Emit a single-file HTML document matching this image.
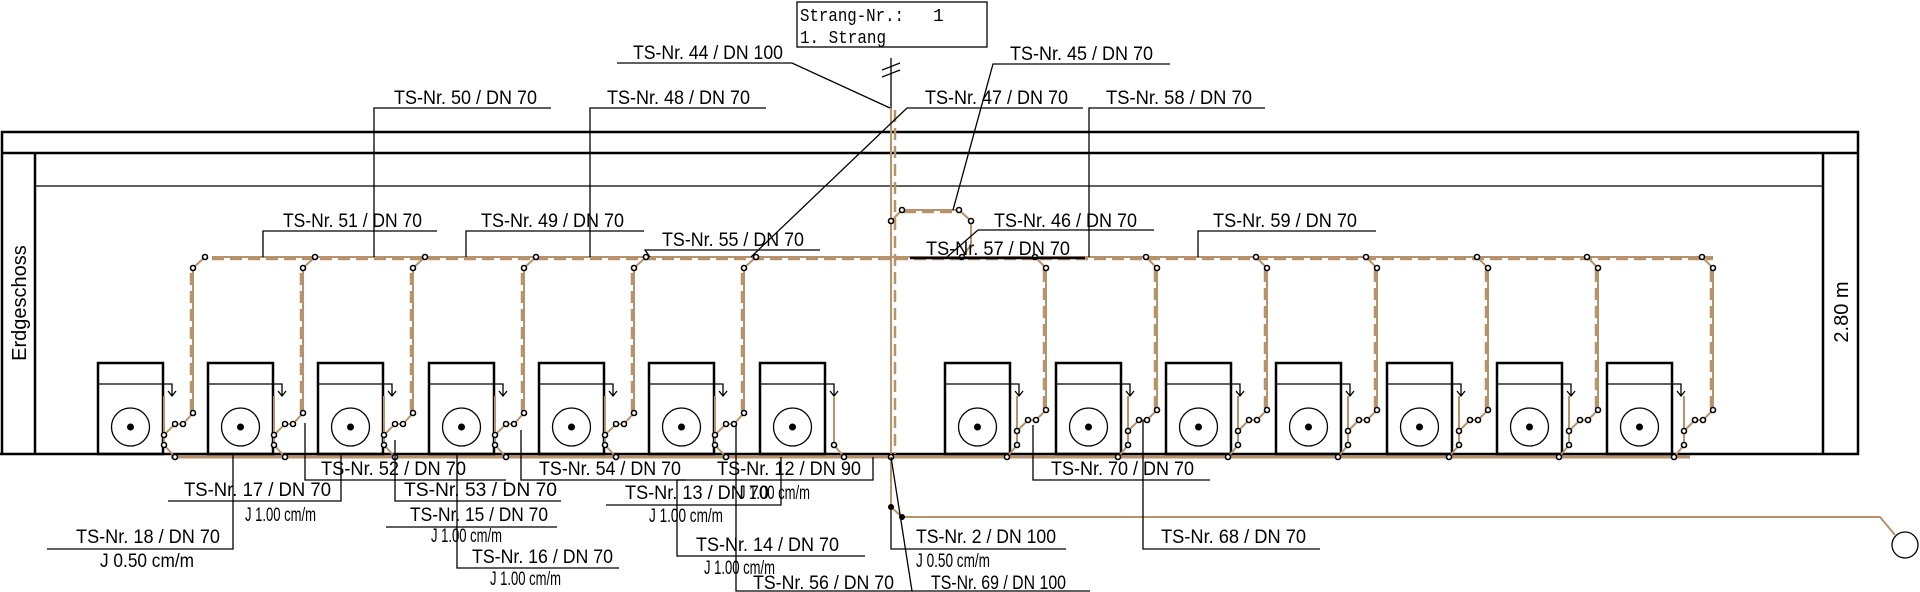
<!DOCTYPE html>
<html><head><meta charset="utf-8"><style>
html,body{margin:0;padding:0;background:#fff;}
svg{display:block;}
text{font-family:"Liberation Sans Narrow","Liberation Sans",sans-serif;font-size:19px;fill:#000;}
.k{stroke:#000;fill:none;stroke-width:1.3;}
.kb{stroke:#000;fill:none;stroke-width:2.5;}
.t{stroke:#b8926a;fill:none;stroke-width:2;}
.tt{stroke:#b8926a;fill:none;stroke-width:3;}
.td{stroke:#b8926a;fill:none;stroke-width:2.5;stroke-dasharray:12 6;}
.d{fill:#fff;stroke:#000;stroke-width:1.6;}
</style></head><body>
<svg width="1920" height="592" viewBox="0 0 1920 592" xmlns="http://www.w3.org/2000/svg">
<defs>
<g id="unit">
<rect x="0" y="0" width="65" height="91" class="kb"/>
<path d="M0 21 H74 V33 M70 28 L74 33 L78 28" class="k" stroke-width="1.8"/>
<circle cx="32.5" cy="64" r="19" class="k" stroke-width="2.2"/>
<circle cx="32.5" cy="64" r="3.5" fill="#000"/>
</g>
<g id="rl">
<path d="M74 33 V82 L85 94" class="t"/>
<path d="M74 72 L85 61 H93 L103 50 V-95 L115 -106" class="t"/>
<path d="M101 48 V-93" class="td"/>
<circle cx="74" cy="72" r="2.5" class="d"/><circle cx="74" cy="82" r="2.5" class="d"/><circle cx="85" cy="94" r="2.5" class="d"/>
<circle cx="85" cy="61" r="2.5" class="d"/><circle cx="93" cy="61" r="2.5" class="d"/><circle cx="103" cy="50" r="2.5" class="d"/>
<circle cx="103" cy="-95" r="2.5" class="d"/><circle cx="115" cy="-106" r="2.5" class="d"/>
</g>
<g id="rr">
<path d="M72 33 V82 L62 94" class="t"/>
<path d="M72 68 L83 57 H91 L101 47 V-95 L90 -106" class="t"/>
<path d="M99 45 V-93" class="td"/>
<circle cx="72" cy="68" r="2.5" class="d"/><circle cx="72" cy="82" r="2.5" class="d"/><circle cx="62" cy="94" r="2.5" class="d"/>
<circle cx="83" cy="57" r="2.5" class="d"/><circle cx="91" cy="57" r="2.5" class="d"/><circle cx="101" cy="47" r="2.5" class="d"/>
<circle cx="101" cy="-95" r="2.5" class="d"/><circle cx="90" cy="-106" r="2.5" class="d"/>
</g>
</defs>

<path d="M2 454 V132 H1858 V454 H0" class="kb"/>
<path d="M2 153 H1858" class="kb"/>
<path d="M35 454 V153" class="kb"/>
<path d="M35 186 H1823" class="k" stroke-width="1.6"/>
<path d="M1823 153 V454" class="kb"/>
<text transform="translate(26,303) rotate(-90)" text-anchor="middle" style="font-family:'Liberation Sans',sans-serif;font-size:20px">Erdgeschoss</text>
<text transform="translate(1848,312) rotate(-90)" text-anchor="middle" style="font-family:'Liberation Sans',sans-serif;font-size:20px">2.80  m</text>

<rect x="797" y="2" width="190" height="45" class="k" stroke-width="1.5"/>
<text x="800" y="21" textLength="104" lengthAdjust="spacingAndGlyphs" style="font-family:'Liberation Mono',monospace;font-size:18px">Strang-Nr.:</text>
<text x="933" y="21" style="font-family:'Liberation Mono',monospace;font-size:18px">1</text>
<text x="800" y="43" textLength="86" lengthAdjust="spacingAndGlyphs" style="font-family:'Liberation Mono',monospace;font-size:18px">1. Strang</text>

<path d="M212 257 H1713" class="t" stroke-width="1.5"/>
<path d="M212 259 H1713" class="td"/>
<path d="M171 457 H1690" class="tt"/>

<use href="#unit" x="98" y="363"/><use href="#rl" x="90" y="363"/>
<use href="#unit" x="208" y="363"/><use href="#rl" x="200" y="363"/>
<use href="#unit" x="318" y="363"/><use href="#rl" x="310" y="363"/>
<use href="#unit" x="429" y="363"/><use href="#rl" x="421" y="363"/>
<use href="#unit" x="539" y="363"/><use href="#rl" x="531" y="363"/>
<use href="#unit" x="649" y="363"/><use href="#rl" x="641" y="363"/>
<use href="#unit" x="760" y="363"/>
<path d="M834 396 V445 L844 457" class="t"/><circle cx="834" cy="445" r="2.5" class="d"/><circle cx="844" cy="457" r="2.5" class="d"/>
<use href="#unit" x="945" y="363"/><use href="#rr" x="945" y="363"/>
<use href="#unit" x="1056" y="363"/><use href="#rr" x="1056" y="363"/>
<use href="#unit" x="1166" y="363"/><use href="#rr" x="1166" y="363"/>
<use href="#unit" x="1276" y="363"/><use href="#rr" x="1276" y="363"/>
<use href="#unit" x="1387" y="363"/><use href="#rr" x="1387" y="363"/>
<use href="#unit" x="1497" y="363"/><use href="#rr" x="1497" y="363"/>
<use href="#unit" x="1607" y="363"/><use href="#rr" x="1612" y="363"/>

<path d="M891 58 V108" class="k"/>
<path d="M882 70 L900 63 M882 77 L900 70" class="k" stroke-width="1.5"/>
<path d="M891 108 V507 L902 517 H1880 L1895 535" class="t"/>
<path d="M895 110 V454" class="td" stroke-width="2"/>
<circle cx="1905" cy="545" r="13" class="k" stroke-width="2.2"/>
<circle cx="891" cy="457" r="2.5" class="d"/><circle cx="891" cy="507" r="3" fill="#000"/><circle cx="902" cy="517" r="3" fill="#000"/>
<path d="M891 221 L902 210 H959 L971 221 V245 L962 257" class="t"/>
<path d="M904 212 H957" class="td" stroke-width="2"/>
<circle cx="891" cy="221" r="2.5" class="d"/><circle cx="902" cy="210" r="2.5" class="d"/><circle cx="959" cy="210" r="2.5" class="d"/><circle cx="971" cy="221" r="2.5" class="d"/><circle cx="962" cy="257" r="2.5" class="d"/>

<g class="k">
<path d="M617 63 H792 L890 108"/>
<path d="M1170 64 H993 L953 210"/>
<path d="M1083 108 H907 L751 257"/>
<path d="M766 108 H590 V257"/>
<path d="M551 108 H374 V257"/>
<path d="M1265 108 H1089 V257"/>
<path d="M437 231 H263 V257"/>
<path d="M644 231 H466 V257"/>
<path d="M820 250 H645 L650 257"/>
<path d="M1154 230 H978 L947 257"/>
<path d="M1376 231 H1198 V257"/>
</g>
<path d="M910 258 H1085" class="kb" stroke-width="1.8"/>
<text x="633" y="59" textLength="150" lengthAdjust="spacingAndGlyphs">TS-Nr. 44 / DN 100</text>
<text x="1010" y="60" textLength="143" lengthAdjust="spacingAndGlyphs">TS-Nr. 45 / DN 70</text>
<text x="925" y="104" textLength="143" lengthAdjust="spacingAndGlyphs">TS-Nr. 47 / DN 70</text>
<text x="607" y="104" textLength="143" lengthAdjust="spacingAndGlyphs">TS-Nr. 48 / DN 70</text>
<text x="394" y="104" textLength="143" lengthAdjust="spacingAndGlyphs">TS-Nr. 50 / DN 70</text>
<text x="1106" y="104" textLength="146" lengthAdjust="spacingAndGlyphs">TS-Nr. 58 / DN 70</text>
<text x="283" y="227" textLength="139" lengthAdjust="spacingAndGlyphs">TS-Nr. 51 / DN 70</text>
<text x="481" y="227" textLength="143" lengthAdjust="spacingAndGlyphs">TS-Nr. 49 / DN 70</text>
<text x="662" y="246" textLength="142" lengthAdjust="spacingAndGlyphs">TS-Nr. 55 / DN 70</text>
<text x="994" y="227" textLength="143" lengthAdjust="spacingAndGlyphs">TS-Nr. 46 / DN 70</text>
<text x="926" y="255" textLength="144" lengthAdjust="spacingAndGlyphs">TS-Nr. 57 / DN 70</text>
<text x="1213" y="227" textLength="144" lengthAdjust="spacingAndGlyphs">TS-Nr. 59 / DN 70</text>

<g class="k">
<path d="M341 454 V501 H168"/>
<path d="M233 454 V549 H47"/>
<path d="M305 423 V480 H506"/>
<path d="M395 440 V501 H561"/>
<path d="M386 527 H557"/>
<path d="M457 454 V568 H619"/>
<path d="M521 430 V480 H686"/>
<path d="M677 480 H873 V457"/>
<path d="M606 505 H781 V457"/>
<path d="M677 480 V556 H865"/>
<path d="M736 425 V591 H912 L891 457"/>
<path d="M912 591 H1090"/>
<path d="M891 507 V549 H1066"/>
<path d="M1033 425 V480 H1210"/>
<path d="M1143 420 V549 H1320"/>
</g>
<text x="184" y="496" textLength="147" lengthAdjust="spacingAndGlyphs">TS-Nr. 17 / DN 70</text>
<text x="245" y="521" textLength="71" lengthAdjust="spacingAndGlyphs">J 1.00 cm/m</text>
<text x="76" y="543" textLength="144" lengthAdjust="spacingAndGlyphs">TS-Nr. 18 / DN 70</text>
<text x="100" y="567" textLength="94" lengthAdjust="spacingAndGlyphs">J 0.50 cm/m</text>
<text x="321" y="475" textLength="145" lengthAdjust="spacingAndGlyphs">TS-Nr. 52 / DN 70</text>
<text x="404" y="496" textLength="153" lengthAdjust="spacingAndGlyphs">TS-Nr. 53 / DN 70</text>
<text x="410" y="521" textLength="138" lengthAdjust="spacingAndGlyphs">TS-Nr. 15 / DN 70</text>
<text x="431" y="542" textLength="71" lengthAdjust="spacingAndGlyphs">J 1.00 cm/m</text>
<text x="472" y="563" textLength="141" lengthAdjust="spacingAndGlyphs">TS-Nr. 16 / DN 70</text>
<text x="490" y="585" textLength="71" lengthAdjust="spacingAndGlyphs">J 1.00 cm/m</text>
<text x="539" y="475" textLength="142" lengthAdjust="spacingAndGlyphs">TS-Nr. 54 / DN 70</text>
<text x="717" y="475" textLength="144" lengthAdjust="spacingAndGlyphs">TS-Nr. 12 / DN 90</text>
<text x="625" y="499" textLength="144" lengthAdjust="spacingAndGlyphs">TS-Nr. 13 / DN 70</text>
<text x="739" y="499" textLength="71" lengthAdjust="spacingAndGlyphs">J 1.00 cm/m</text>
<text x="649" y="522" textLength="74" lengthAdjust="spacingAndGlyphs">J 1.00 cm/m</text>
<text x="696" y="551" textLength="143" lengthAdjust="spacingAndGlyphs">TS-Nr. 14 / DN 70</text>
<text x="704" y="574" textLength="71" lengthAdjust="spacingAndGlyphs">J 1.00 cm/m</text>
<text x="753" y="589" textLength="141" lengthAdjust="spacingAndGlyphs">TS-Nr. 56 / DN 70</text>
<text x="916" y="543" textLength="140" lengthAdjust="spacingAndGlyphs">TS-Nr. 2 / DN 100</text>
<text x="916" y="567" textLength="74" lengthAdjust="spacingAndGlyphs">J 0.50 cm/m</text>
<text x="931" y="589" textLength="135" lengthAdjust="spacingAndGlyphs">TS-Nr. 69 / DN 100</text>
<text x="1051" y="475" textLength="143" lengthAdjust="spacingAndGlyphs">TS-Nr. 70 / DN 70</text>
<text x="1161" y="543" textLength="145" lengthAdjust="spacingAndGlyphs">TS-Nr. 68 / DN 70</text>
</svg>
</body></html>
